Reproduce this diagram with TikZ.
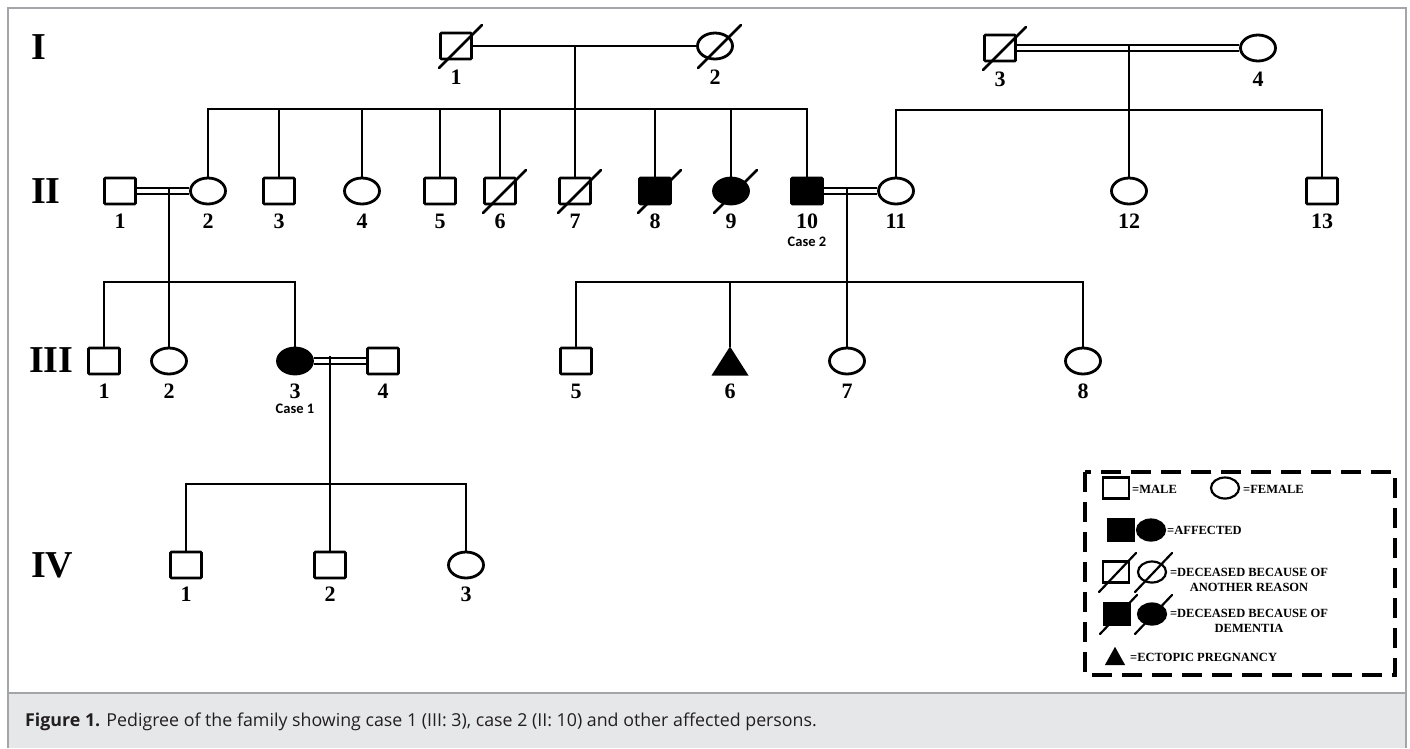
\documentclass[tikz,border=0pt]{standalone}
\usepackage{fontspec}
\setmainfont{Liberation Serif}
\newfontfamily\capfont{Open Sans}
\newfontfamily\casefont{Carlito}
\usetikzlibrary{shapes.geometric}
\definecolor{capbg}{HTML}{E6E7E8}
\definecolor{bordercol}{HTML}{A3A5A8}
\definecolor{captext}{HTML}{231F20}
\newcommand\deceased[1]{\draw[line width=2.6pt,line cap=round] ([shift={(-17,22)}]#1.center) -- ([shift={(26,-21)}]#1.center);}
\newcommand\legdec[1]{\draw[line width=2.2pt,line cap=round] ([shift={(-17,20)}]#1.center) -- ([shift={(20,-19)}]#1.center);}
\begin{document}
\begin{tikzpicture}[x=1pt,y=-1pt,
  conn/.style={line width=2.8pt,line join=miter},
  dbl/.style={line width=2.4pt,double=white,double distance=3.4pt},
  male/.style={draw,line width=2.8pt,rectangle,minimum width=31pt,minimum height=26pt,inner sep=0pt,rounded corners=1pt},
  female/.style={draw,line width=2.8pt,ellipse,minimum width=35pt,minimum height=26pt,inner sep=0pt},
  tri/.style={rectangle,minimum width=37pt,minimum height=29pt,inner sep=0pt,outer sep=0pt},
  aff/.style={fill=black},
  num/.style={font=\bfseries\fontsize{22}{22}\selectfont,inner sep=0pt},
  gen/.style={font=\bfseries\fontsize{38}{38}\selectfont,inner sep=0pt,anchor=west},
  casel/.style={font=\casefont\bfseries\fontsize{14.5}{14.5}\selectfont,inner sep=0pt},
  lmale/.style={draw,line width=2.2pt,rectangle,minimum width=26pt,minimum height=21pt,inner sep=0pt},
  lfemale/.style={draw,line width=2.2pt,ellipse,minimum width=28pt,minimum height=21pt,inner sep=0pt},
  ltxt/.style={font=\bfseries\fontsize{12.5}{15.5}\selectfont,inner sep=0pt},
]
\useasboundingbox (0,0) rectangle (1410,748);
% frame and caption band
\fill[white] (0,0) rectangle (1410,748);
\fill[capbg] (8,693) rectangle (1406,748);
\draw[bordercol,line width=1.3pt] (8,748) -- (8,8) -- (1406,8) -- (1406,748);
\draw[bordercol,line width=1.3pt] (8,693) -- (1406,693);
\node[anchor=base west,inner sep=0pt,text=captext,font=\capfont\fontsize{17.8}{17.8}\selectfont] (cap) at (25,726)
  {\textbf{Figure 1.} Pedigree of the family showing case 1 (III: 3), case 2 (II: 10) and other affected persons.};

% generation labels
\node[gen] (gI) at (31,47) {I};
\node[gen] (gII) at (31,191) {II};
\node[gen] (gIII) at (29,360) {III};
\node[gen] (gIV) at (31,565) {IV};

% Generation I
\node[male] (I1) at (456,46) {};
\node[female] (I2) at (715,46) {};
\node[male] (I3) at (1000,48) {};
\node[female] (I4) at (1258,48) {};
% Generation II
\node[male] (II1) at (120,191) {};
\node[female] (II2) at (208,191) {};
\node[male] (II3) at (279,191) {};
\node[female] (II4) at (362,191) {};
\node[male] (II5) at (440,191) {};
\node[male] (II6) at (500,191) {};
\node[male] (II7) at (575,191) {};
\node[male,aff] (II8) at (655,191) {};
\node[female,aff] (II9) at (731,191) {};
\node[male,aff] (II10) at (807,191) {};
\node[female] (II11) at (896,191) {};
\node[female] (II12) at (1129,191) {};
\node[male] (II13) at (1322,191) {};
% Generation III
\node[male] (III1) at (104,361) {};
\node[female] (III2) at (169,361) {};
\node[female,aff] (III3) at (295,361) {};
\node[male] (III4) at (383,361) {};
\node[male] (III5) at (576,361) {};
\node[tri] (III6) at (730,361) {};
\fill (III6.north) -- (III6.south east) -- (III6.south west) -- cycle;
\node[female] (III7) at (847,361) {};
\node[female] (III8) at (1083,361) {};
% Generation IV
\node[male] (IV1) at (186,565) {};
\node[male] (IV2) at (330,565) {};
\node[female] (IV3) at (466,565) {};

% deceased slashes
\deceased{I1}
\deceased{I2}
\deceased{I3}
\deceased{II6}
\deceased{II7}
\deceased{II8}
\deceased{II9}

% numbers
\foreach \n/\t in {I1/1,I2/2,I3/3,I4/4}{
  \node[num] (\n l) at ([shift={(0,31)}]\n.center) {\t};}
\foreach \n/\t in {II1/1,II2/2,II3/3,II4/4,II5/5,II6/6,II7/7,II8/8,II9/9,II10/10,II11/11,II12/12,II13/13}{
  \node[num] (\n l) at ([shift={(0,30)}]\n.center) {\t};}
\foreach \n/\t in {III1/1,III2/2,III3/3,III4/4,III5/5,III6/6,III7/7,III8/8}{
  \node[num] (\n l) at ([shift={(0,30)}]\n.center) {\t};}
\foreach \n/\t in {IV1/1,IV2/2,IV3/3}{
  \node[num] (\n l) at ([shift={(0,29)}]\n.center) {\t};}
\node[casel] (case2) at ([shift={(0,21)}]II10l.center) {Case 2};
\node[casel] (case1) at ([shift={(0,18)}]III3l.center) {Case 1};

% marriages and descent: family I-1 x I-2
\draw[conn] (I1.east) -- (I2.west);
\coordinate (m12) at (575,46);
\coordinate (s2a) at (575,109);
\draw[conn] (m12) -- (II7.north);
\draw[conn] (II2.north) |- (II10.north |- s2a) -- (II10.north);
\foreach \c in {II3,II4,II5,II6,II8,II9}{
  \draw[conn] (\c.north |- s2a) -- (\c.north);}

% family I-3 x I-4
\draw[dbl] (I3.east) -- (I4.west);
\coordinate (m34) at (1129,44);
\coordinate (s2b) at (1129,110);
\draw[conn] (m34) -- (II12.north);
\draw[conn] (II11.north) |- (II13.north |- s2b) -- (II13.north);

% family II-1 x II-2
\draw[dbl] (II1.east) -- (II2.west);
\coordinate (m2) at (169,187);
\coordinate (s3a) at (169,282);
\draw[conn] (m2) -- (III2.north);
\draw[conn] (III1.north) |- (III3.north |- s3a) -- (III3.north);

% family II-10 x II-11
\draw[dbl] (II10.east) -- (II11.west);
\coordinate (m10) at (847,187);
\coordinate (s3b) at (847,282);
\draw[conn] (m10) -- (III7.north);
\draw[conn] (III5.north) |- (III8.north |- s3b) -- (III8.north);
\draw[conn] (III6.north |- s3b) -- (III6.north);

% family III-3 x III-4
\draw[dbl] (III3.east) -- (III4.west);
\coordinate (m33) at (330,356);
\coordinate (s4) at (330,484);
\draw[conn] (m33) -- (IV2.north);
\draw[conn] (IV1.north) |- (IV3.north |- s4) -- (IV3.north);

% legend
\draw[line width=3.6pt,dash pattern=on 20pt off 10pt] (1085,472) rectangle (1395,675);
\node[lmale] (L1) at (1116,488) {};
\node[ltxt,anchor=west] (L1t) at (1132,489) {=MALE};
\node[lfemale] (L2) at (1225,488) {};
\node[ltxt,anchor=west] (L2t) at (1243,489) {=FEMALE};
\node[lmale,aff] (L3) at (1121,530) {};
\node[lfemale,aff] (L4) at (1151,530) {};
\node[ltxt,anchor=west] (L4t) at (1167,530) {=AFFECTED};
\node[lmale] (L5) at (1116,572) {};
\node[lfemale] (L6) at (1152,572) {};
\legdec{L5}
\legdec{L6}
\node[ltxt,align=center] (L6t) at (1249,580) {=DECEASED BECAUSE OF\\ANOTHER REASON};
\node[lmale,aff] (L7) at (1117,614) {};
\node[lfemale,aff] (L8) at (1152,614) {};
\legdec{L7}
\legdec{L8}
\node[ltxt,align=center] (L8t) at (1249,621) {=DECEASED BECAUSE OF\\DEMENTIA};
\node[inner sep=0pt,minimum width=20pt,minimum height=18pt] (L9) at (1115,656) {};
\fill (L9.north) -- (L9.south east) -- (L9.south west) -- cycle;
\node[ltxt,anchor=west] (L9t) at (1130,657) {=ECTOPIC PREGNANCY};
\end{tikzpicture}
\end{document}
